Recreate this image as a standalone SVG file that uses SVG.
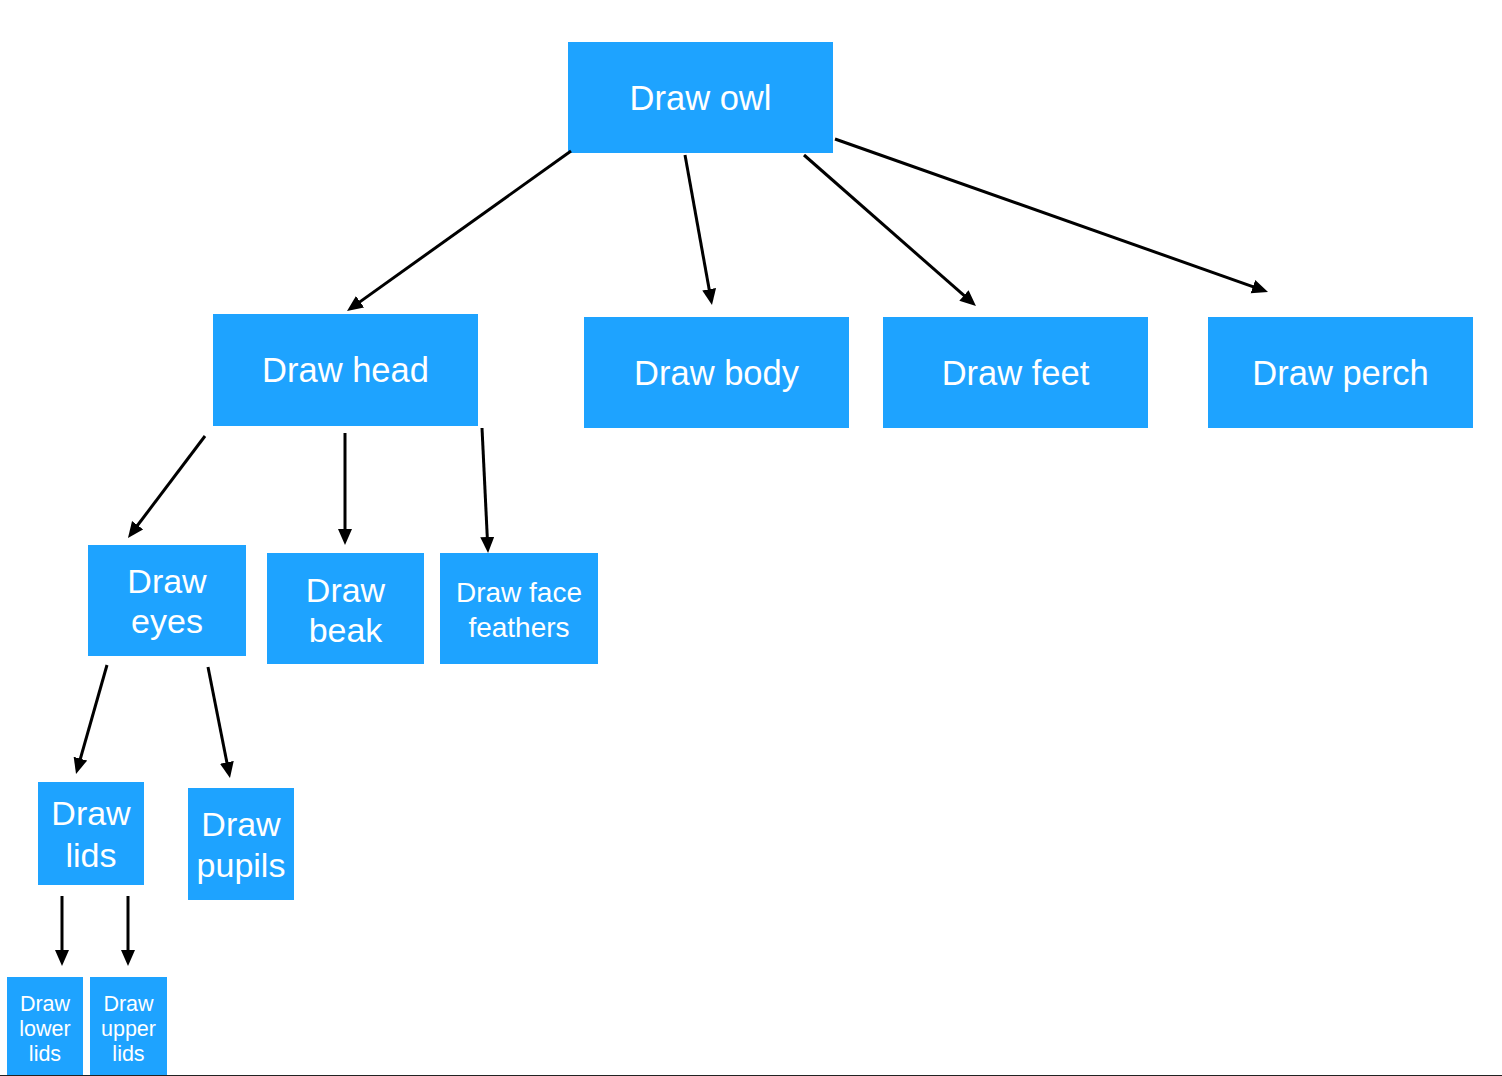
<svg xmlns="http://www.w3.org/2000/svg" width="1502" height="1076" viewBox="0 0 1502 1076">
<style>
.box{fill:#1EA3FF}
.t{fill:#fff;font-family:"Liberation Sans",Arial,sans-serif;text-anchor:middle}
.edge{stroke:#000;stroke-width:3;fill:none;marker-end:url(#ah)}
</style>
<defs>
<marker id="ah" markerUnits="userSpaceOnUse" markerWidth="18" markerHeight="16" refX="11" refY="7" orient="auto">
<path d="M0,0 L16,7 L0,14 z" fill="#000"/>
</marker>
</defs>
<rect width="1502" height="1076" fill="#fff"/>
<g id="owl"><rect class="box" x="568" y="42" width="265" height="111"/><text class="t" x="700.5" y="109.5" font-size="34.5">Draw owl</text></g>
<g id="head"><rect class="box" x="213" y="314" width="265" height="112"/><text class="t" x="345.5" y="382" font-size="34.5">Draw head</text></g>
<g id="body"><rect class="box" x="584" y="317" width="265" height="111"/><text class="t" x="716.5" y="385" font-size="34.5">Draw body</text></g>
<g id="feet"><rect class="box" x="883" y="317" width="265" height="111"/><text class="t" x="1015.5" y="385" font-size="34.5">Draw feet</text></g>
<g id="perch"><rect class="box" x="1208" y="317" width="265" height="111"/><text class="t" x="1340.5" y="385" font-size="34.5">Draw perch</text></g>
<g id="eyes"><rect class="box" x="88" y="545" width="158" height="111"/><text class="t" x="167" y="593" font-size="34">Draw</text><text class="t" x="167" y="633" font-size="34">eyes</text></g>
<g id="beak"><rect class="box" x="267" y="553" width="157" height="111"/><text class="t" x="345.5" y="602" font-size="34">Draw</text><text class="t" x="345.5" y="642" font-size="34">beak</text></g>
<g id="face"><rect class="box" x="440" y="553" width="158" height="111"/><text class="t" x="519" y="602" font-size="28">Draw face</text><text class="t" x="519" y="637" font-size="28">feathers</text></g>
<g id="lids"><rect class="box" x="38" y="782" width="106" height="103"/><text class="t" x="91" y="825" font-size="34">Draw</text><text class="t" x="91" y="867" font-size="34">lids</text></g>
<g id="pupils"><rect class="box" x="188" y="788" width="106" height="112"/><text class="t" x="241" y="836" font-size="34">Draw</text><text class="t" x="241" y="877" font-size="34">pupils</text></g>
<g id="lower"><rect class="box" x="7" y="977" width="76" height="99"/><text class="t" x="45" y="1011" font-size="21.5">Draw</text><text class="t" x="45" y="1036" font-size="21.5">lower</text><text class="t" x="45" y="1061" font-size="21.5">lids</text></g>
<g id="upper"><rect class="box" x="90" y="977" width="77" height="99"/><text class="t" x="128.5" y="1011" font-size="21.5">Draw</text><text class="t" x="128.5" y="1036" font-size="21.5">upper</text><text class="t" x="128.5" y="1061" font-size="21.5">lids</text></g>
<g id="connectors">
<line class="edge" x1="571" y1="151" x2="351.1" y2="308.1"/>
<line class="edge" x1="685" y1="155" x2="711.1" y2="300.1"/>
<line class="edge" x1="804" y1="155" x2="972.2" y2="302.7"/>
<line class="edge" x1="835" y1="139" x2="1263.3" y2="290.3"/>
<line class="edge" x1="205" y1="436" x2="131" y2="534"/>
<line class="edge" x1="345" y1="433" x2="345" y2="540"/>
<line class="edge" x1="482" y1="428" x2="487.8" y2="548"/>
<line class="edge" x1="107" y1="665" x2="77.4" y2="769.2"/>
<line class="edge" x1="208" y1="667" x2="229" y2="773.1"/>
<line class="edge" x1="62" y1="896" x2="62" y2="961"/>
<line class="edge" x1="128" y1="896" x2="128" y2="961"/>
</g>
<line x1="0" y1="1075.5" x2="1502" y2="1075.5" stroke="#222" stroke-width="1"/>
</svg>
